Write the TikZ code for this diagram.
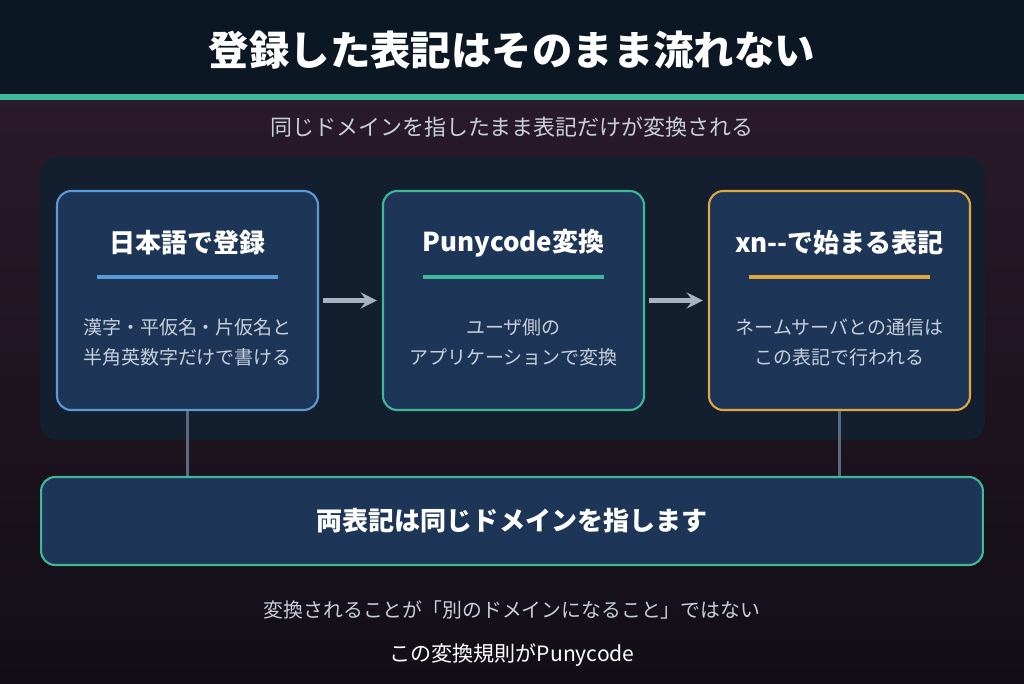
\documentclass[tikz,border=0pt]{standalone}
\usepackage{fontspec}
\setmainfont{Noto Sans CJK JP}
\usetikzlibrary{positioning}
\definecolor{topbar}{HTML}{0B1722}
\definecolor{mint}{HTML}{3FB89A}
\definecolor{sky}{HTML}{5B9BD5}
\definecolor{amber}{HTML}{E0A840}
\definecolor{panel}{HTML}{131F2E}
\definecolor{boxfill}{HTML}{1D3557}
\definecolor{soft}{HTML}{C8D0DC}
\definecolor{link}{HTML}{A8B4C4}
\definecolor{stem}{HTML}{5A6A80}
\begin{document}
\begin{tikzpicture}
   [  x=0.02cm, y=-0.02cm,
      stage/.style={draw, line width=1.2pt, fill=boxfill, rounded corners=8pt,
                    minimum width=5.22cm, minimum height=4.38cm},
      heading/.style={text=white, font=\bfseries\fontsize{14.8}{17}\selectfont},
      body/.style={text=soft, align=center, font=\fontsize{10.8}{17}\selectfont},
      bar/.style={line width=2.5pt},
      flow/.style={->, >=stealth, line width=3pt, color=link, shorten >=0pt}]
% background
\shade[top color={rgb,255:red,42;green,26;blue,42}, bottom color={rgb,255:red,18;green,14;blue,22}]
   (0,95) rectangle (1024,683);
\fill[topbar] (0,0) rectangle (1024,95);
\fill[mint] (0,94) rectangle (1024,100);
\useasboundingbox (0,0) rectangle (1024,683);
\node[text=white, font=\bfseries\fontsize{23}{26}\selectfont] (title) at (512,50) {登録した表記はそのまま流れない};
\node[text=soft, font=\fontsize{12.5}{14}\selectfont] (sub) at (512,127) {同じドメインを指したまま表記だけが変換される};
\fill[panel, rounded corners=10pt] (40,157) rectangle (985,440);

% the three stages
\node[stage, draw=sky]   (jp)   at (187.5,300.5) {};
\node[stage, draw=mint]  (puny) at (513.5,300.5) {};
\node[stage, draw=amber] (xn)   at (839.5,300.5) {};
\foreach \n/\c/\t/\b in {jp/sky/日本語で登録/{漢字・平仮名・片仮名と\\半角英数字だけで書ける},
                         puny/mint/Punycode変換/{ユーザ側の\\アプリケーションで変換},
                         xn/amber/xn{-}{-}で始まる表記/{ネームサーバとの通信は\\この表記で行われる}}{
   \node[heading] (\n-t) at ([yshift=-1.06cm]\n.north) {\t};
   \draw[bar, \c] ([xshift=-1.82cm,yshift=-1.74cm]\n.north) -- ([xshift=1.82cm,yshift=-1.74cm]\n.north);
   \node[body] (\n-b) at ([yshift=-3.04cm]\n.north) {\b};
}
\draw[flow] ([xshift=0.08cm]jp.east) -- ([xshift=-0.1cm]puny.west);
\draw[flow] ([xshift=0.08cm]puny.east) -- ([xshift=-0.1cm]xn.west);

% common result
\node[draw=mint, line width=1.2pt, fill=boxfill, rounded corners=8pt,
      minimum width=18.84cm, minimum height=1.76cm,
      text=white, font=\bfseries\fontsize{14.8}{17}\selectfont] (both) at (512,521) {両表記は同じドメインを指します};
\draw[stem, line width=1.5pt] (jp.south) -- (jp.south |- both.north);
\draw[stem, line width=1.5pt] (xn.south) -- (xn.south |- both.north);

\node[text=soft, font=\fontsize{11.3}{13}\selectfont] (note1) at (512,610) {変換されることが「別のドメインになること」ではない};
\node[text=white, font=\fontsize{12}{14}\selectfont] (note2) at (512,655) {この変換規則がPunycode};
\end{tikzpicture}
\end{document}
